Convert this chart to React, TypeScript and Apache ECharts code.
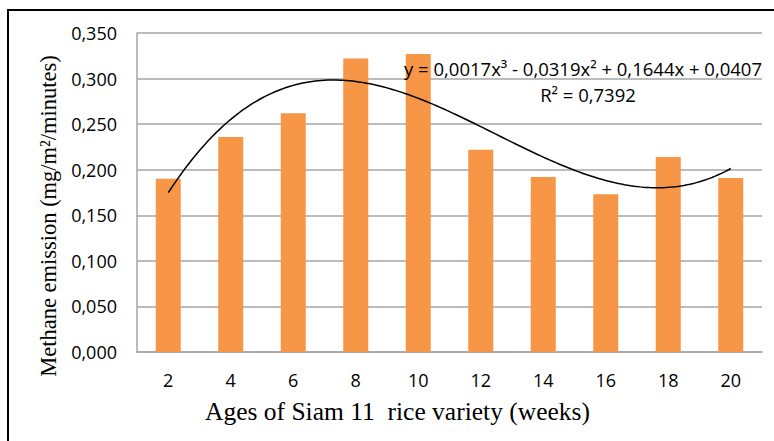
import React, { useEffect, useRef } from "react";
import * as echarts from "echarts";

const categories = ["2", "4", "6", "8", "10", "12", "14", "16", "18", "20"];
const methane = [0.19, 0.236, 0.262, 0.322, 0.327, 0.222, 0.192, 0.173, 0.214, 0.191];
const yTicks = [0, 0.05, 0.1, 0.15, 0.2, 0.25, 0.3, 0.35];
const equationText = "y = 0,0017x³ - 0,0319x² + 0,1644x + 0,0407";
const r2Text = "R² = 0,7392";
const xTitle = "Ages of Siam 11  rice variety (weeks)";
const yTitle = "Methane emission (mg/m²/minutes)";

// least-squares cubic trendline fitted to the bars (x = 1..n, as in Excel)
function fitCubic(ys: number[]): number[] {
  const n = 4;
  const A: number[][] = Array.from({ length: n }, () => new Array(n + 1).fill(0));
  ys.forEach((y, i) => {
    const x = i + 1;
    for (let r = 0; r < n; r++) {
      for (let c = 0; c < n; c++) A[r][c] += Math.pow(x, r + c);
      A[r][n] += y * Math.pow(x, r);
    }
  });
  for (let p = 0; p < n; p++) {
    let max = p;
    for (let r = p + 1; r < n; r++) if (Math.abs(A[r][p]) > Math.abs(A[max][p])) max = r;
    [A[p], A[max]] = [A[max], A[p]];
    for (let r = 0; r < n; r++) {
      if (r === p) continue;
      const f = A[r][p] / A[p][p];
      for (let c = p; c <= n; c++) A[r][c] -= f * A[p][c];
    }
  }
  return A.map((row, i) => row[n] / row[i]);
}

export default function App() {
  const ref = useRef<HTMLDivElement>(null);
  useEffect(() => {
    if (!ref.current) return;
    const chart = echarts.init(ref.current, null, { renderer: "svg" });
    const coef = fitCubic(methane);
    const trend: number[][] = [];
    for (let k = 0; k <= 180; k++) {
      const x = 1 + (k * (methane.length - 1)) / 180;
      const y = coef[0] + coef[1] * x + coef[2] * x * x + coef[3] * x * x * x;
      trend.push([x, y]);
    }
    const grey = "#a6a6a6";
    chart.setOption({
      animation: false,
      backgroundColor: "#ffffff",
      grid: { left: 137, right: 12, top: 33, bottom: 89, containLabel: false },
      xAxis: [
        {
          type: "category",
          data: categories,
          axisTick: { show: false },
          axisLine: { lineStyle: { color: grey, width: 1.5 } },
          axisLabel: { color: "#000", fontFamily: "Open Sans", fontSize: 18, margin: 19 },
        },
        {
          type: "value",
          min: 0.5,
          max: methane.length + 0.5,
          show: false,
        },
      ],
      yAxis: {
        type: "value",
        min: 0,
        max: yTicks[yTicks.length - 1],
        interval: yTicks[1] - yTicks[0],
        axisLine: { show: true, lineStyle: { color: grey, width: 1.5 } },
        axisTick: { show: false },
        splitLine: { lineStyle: { color: grey, width: 1.5 } },
        axisLabel: {
          color: "#000",
          fontFamily: "Open Sans",
          fontSize: 18,
          margin: 20,
          formatter: (v: number) => v.toFixed(3).replace(".", ","),
        },
      },
      series: [
        {
          type: "bar",
          data: methane,
          barWidth: 25,
          itemStyle: { color: "#F79646" },
        },
        {
          type: "line",
          xAxisIndex: 1,
          data: trend,
          showSymbol: false,
          symbol: "none",
          lineStyle: { color: "#000", width: 1.5 },
          z: 5,
        },
      ],
      graphic: [
        {
          type: "rect",
          shape: { x: 8, y: 10, width: 900, height: 600 },
          style: { fill: "none", stroke: "#000", lineWidth: 2 },
          silent: true,
        },
        {
          type: "text",
          x: 404,
          y: 68,
          style: {
            text: equationText,
            fill: "#000",
            font: "18.5px 'Open Sans'",
            textAlign: "left",
            textVerticalAlign: "middle",
          },
          z: 10,
        },
        {
          type: "text",
          x: 588,
          y: 94,
          style: {
            text: r2Text,
            fill: "#000",
            font: "18.5px 'Open Sans'",
            textAlign: "center",
            textVerticalAlign: "middle",
          },
          z: 10,
        },
        {
          type: "text",
          x: 205,
          y: 411,
          style: {
            text: xTitle,
            fill: "#000",
            font: "25.5px 'Liberation Serif'",
            textAlign: "left",
            textVerticalAlign: "middle",
          },
        },
        {
          type: "text",
          x: 48,
          y: 216,
          rotation: Math.PI / 2,
          style: {
            text: yTitle,
            fill: "#000",
            font: "22.5px 'Liberation Serif'",
            textAlign: "center",
            textVerticalAlign: "middle",
          },
        },
      ],
    });
    return () => chart.dispose();
  }, []);
  return (
    <div
      ref={ref}
      style={{ position: "fixed", left: 0, top: 0, width: 774, height: 441, background: "#fff" }}
    />
  );
}
